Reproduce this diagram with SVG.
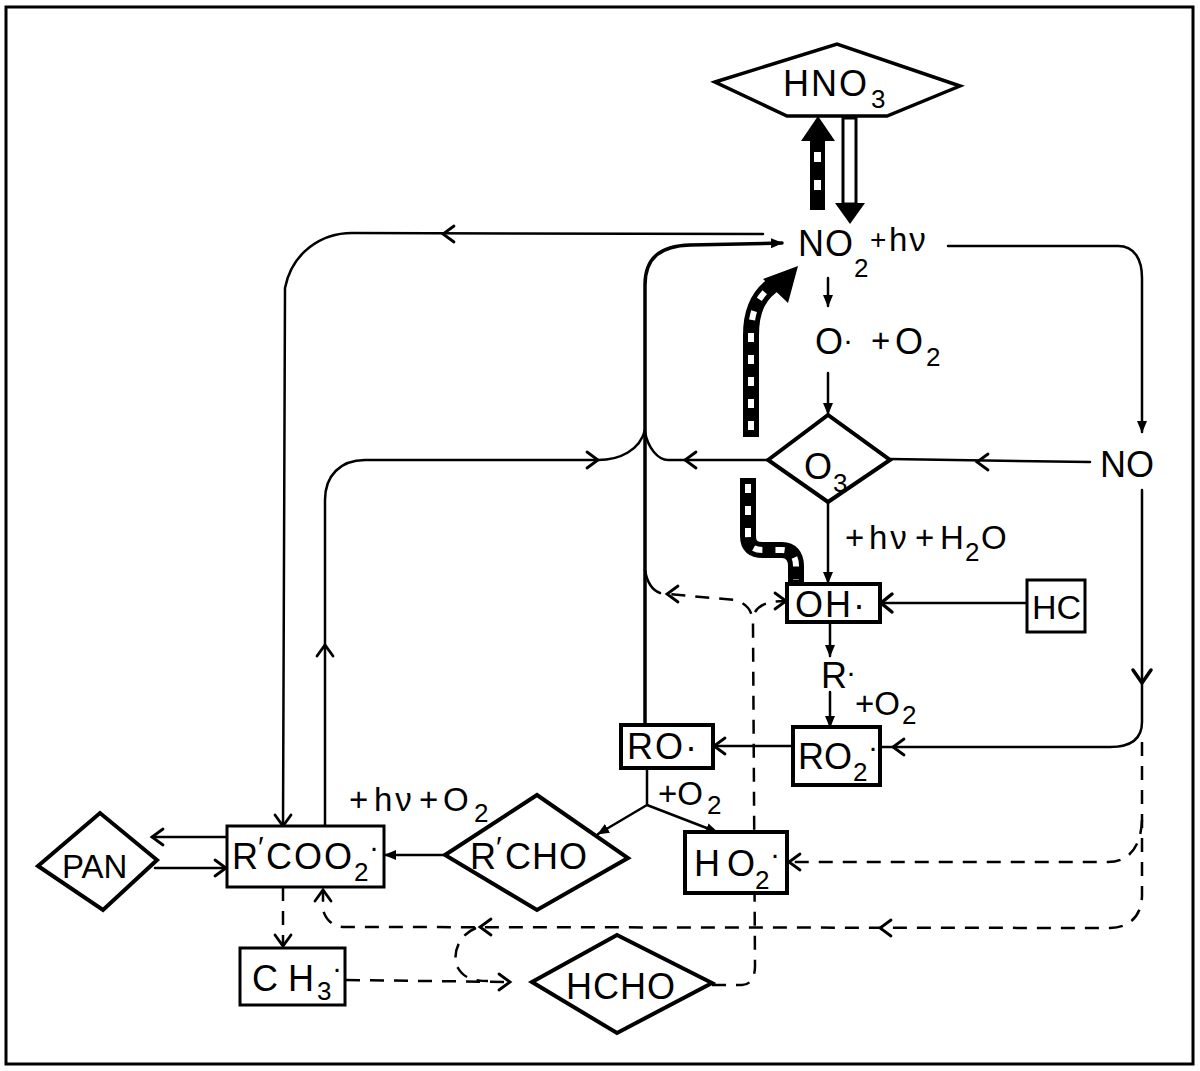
<svg xmlns="http://www.w3.org/2000/svg" width="1200" height="1071" viewBox="0 0 1200 1071">
<style>
.t{font-family:"Liberation Sans",Arial,sans-serif;font-size:36px;fill:#000}
.s{font-size:26px}
.sm{font-size:33px}
.dot{font-size:30px}
.ln{fill:none;stroke:#000;stroke-width:2.5;stroke-linecap:round;stroke-linejoin:round}
.bold{stroke-width:3.5}
.dash{fill:none;stroke:#000;stroke-width:2.5;stroke-dasharray:14 10}
.chev{fill:none;stroke:#000;stroke-width:2.8;stroke-linecap:round;stroke-linejoin:miter}
.box{fill:#fff;stroke:#000;stroke-width:4}
.thick{fill:none;stroke:#000;stroke-width:16}
.wd{fill:none;stroke:#fff;stroke-width:6;stroke-dasharray:9 13}
</style>
<defs>
<marker id="fa" viewBox="0 0 12 10" refX="11" refY="5" markerWidth="12" markerHeight="10" markerUnits="userSpaceOnUse" orient="auto">
<path d="M0,0 L12,5 L0,10 z" fill="#000"/>
</marker>
</defs>
<rect x="6" y="7" width="1187" height="1057" fill="#fff" stroke="#000" stroke-width="3"/>
<g id="connectors">
<path class="ln" d="M763,234 L352,233 C322,233 292,252 285,288 L283,826"/>
<path class="ln" d="M325,826 L325,500 C325,476 340,460 365,460 L598,460 C620,460 640,450 645,430"/>
<path class="ln" d="M768,460 L668,460 C658,460 648,448 645,432"/>
<path class="ln bold" d="M645,725 L645,285 C645,258 660,246 690,245 L782,243" marker-end="url(#fa)"/>
<path class="ln" d="M645,570 C647,582 652,590 660,593"/>
<path class="ln" d="M948,246 L1118,246 C1135,246 1142,260 1142,278 L1142,432" marker-end="url(#fa)"/>
<path class="ln" d="M1090,462 L890,459"/>
<path class="ln" d="M1142,490 L1142,722 C1142,740 1130,747 1110,747 L881,747"/>
<path class="ln" d="M828,278 L828,306" marker-end="url(#fa)"/>
<path class="ln" d="M828,373 L828,414" marker-end="url(#fa)"/>
<path class="ln" d="M828,502 L828,583" marker-end="url(#fa)"/>
<path class="ln" d="M1027,603 L882,603"/>
<path class="ln" d="M830,622 L830,656" marker-end="url(#fa)"/>
<path class="ln" d="M830,692 L830,727" marker-end="url(#fa)"/>
<path class="ln" d="M793,746 L715,746"/>
<path class="ln" d="M647,768 L647,805 L598,834" marker-end="url(#fa)"/>
<path class="ln" d="M647,805 L717,832" marker-end="url(#fa)"/>
<path class="ln" d="M445,855 L385,855" marker-end="url(#fa)"/>
<path class="ln" d="M227,837 L152,837"/>
<path class="ln" d="M155,868 L226,868"/>
<path class="dash" d="M283,887 L283,946"/>
<path class="dash" d="M346,980 L510,982"/>
<path class="dash" d="M476,928 C456,936 452,958 458,968 C463,977 472,981 488,981"/>
<path class="dash" d="M1142,742 L1142,895 C1142,915 1130,928 1110,928 L345,927 C333,927 326,920 323,910 L323,890"/>
<path class="dash" d="M1142,820 C1141,848 1128,862 1108,862 L789,862"/>
<path class="dash" d="M712,985 L742,985 C750,985 755,978 755,966 L753,625 C753,612 748,604 735,600 L668,594"/>
<path class="dash" d="M755,612 C760,604 770,601 786,601"/>
<polyline class="chev" points="454,226 443,234 454,242"/>
<polyline class="chev" points="275,815 283,826 291,815"/>
<polyline class="chev" points="317,656 325,645 333,656"/>
<polyline class="chev" points="587,452 598,460 587,468"/>
<polyline class="chev" points="696,452 685,460 696,468"/>
<polyline class="chev" points="988,454 977,462 988,470"/>
<polyline class="chev" points="1133,670 1142,683 1151,670" style="stroke-width:3.5"/>
<polyline class="chev" points="904,739 893,747 904,755"/>
<polyline class="chev" points="892,594 881,603 892,612" style="stroke-width:3.5"/>
<polyline class="chev" points="725,738 714,746 725,754"/>
<polyline class="chev" points="163,829 152,837 163,845"/>
<polyline class="chev" points="215,860 226,868 215,876"/>
<polyline class="chev" points="275,935 283,946 291,935"/>
<polyline class="chev" points="499,974 510,982 499,990"/>
<polyline class="chev" points="491,919 480,927 491,935"/>
<polyline class="chev" points="891,920 880,928 891,936"/>
<polyline class="chev" points="315,901 323,890 331,901"/>
<polyline class="chev" points="800,854 789,862 800,870"/>
<polyline class="chev" points="678,586 667,594 678,602"/>
<polyline class="chev" points="775,593 786,601 775,609"/>
<rect x="810" y="138" width="15" height="72" fill="#000"/>
<rect x="814" y="152" width="7" height="10" fill="#fff"/>
<rect x="814" y="180" width="7" height="10" fill="#fff"/>
<polygon points="818,116 801,141 835,141" fill="#000"/>
<rect x="843" y="118" width="13" height="86" fill="#fff" stroke="#000" stroke-width="3"/>
<polygon points="835,203 865,203 850,224" fill="#000"/>
<path class="thick" d="M751,437 L751,335 C751,308 760,293 776,283"/>
<path class="wd" d="M751,430 L751,335 C751,308 760,293 776,283"/>
<polygon points="798,266 763,279 788,303" fill="#000"/>
<path class="thick" d="M748,478 L748,536 C748,546 753,550 763,550 L782,550 C791,550 796,556 796,566 L796,583"/>
<path class="wd" d="M748,484 L748,536 C748,546 753,550 763,550 L782,550 C791,550 796,556 796,566 L796,580"/>
</g>
<g id="HNO3"><polygon class="box" points="715,82 837,44 960,86 887,116 787,116" style="stroke-width:3.5"/>
<text class="t" x="783" y="96" style="letter-spacing:2px">HNO<tspan class="s" x="871" y="108" style="letter-spacing:0">3</tspan></text></g>
<g id="NO2"><text class="t" x="798" y="256" style="letter-spacing:1px">NO<tspan class="s" x="854" y="277" style="letter-spacing:0">2</tspan></text>
<text class="t" x="870" y="249" style="font-size:28px">+</text><text class="t sm" x="889" y="251" style="letter-spacing:2px">hν</text></g>
<g id="O-O2"><text class="t" x="815" y="354">O</text><text class="t dot" x="843" y="350">·</text>
<text class="t sm" x="871" y="352">+</text><text class="t" x="895" y="354">O</text><text class="t s" x="926" y="366">2</text></g>
<g id="O3"><polygon class="box" points="768,460 828,415 890,460 828,502"/>
<text class="t" x="804" y="479">O<tspan class="s" x="833" y="492">3</tspan></text></g>
<g id="NO"><text class="t" x="1100" y="477">NO</text></g>
<g id="hv-H2O"><text class="t sm" x="845" y="549">+</text><text class="t sm" x="869" y="549" style="letter-spacing:3px">hν</text><text class="t sm" x="915" y="549">+</text><text class="t sm" x="940" y="549">H</text><text class="t s" x="965" y="561">2</text><text class="t sm" x="981" y="549">O</text></g>
<g id="OH"><rect class="box" x="787" y="584" width="93" height="38"/>
<text class="t" x="795" y="617" style="letter-spacing:2px">OH·</text></g>
<g id="HC"><rect class="box" x="1027" y="580" width="58" height="52" style="stroke-width:3"/>
<text class="t" x="1032" y="619" style="font-size:34px">HC</text></g>
<g id="R"><text class="t" x="821" y="688">R</text><text class="t dot" x="846" y="682">·</text></g>
<g id="R-O2"><text class="t sm" x="855" y="715">+O</text><text class="t s" x="902" y="724">2</text></g>
<g id="RO2"><rect class="box" x="793" y="727" width="87" height="58"/>
<text class="t" x="798" y="769">RO<tspan class="s" x="853" y="781">2</tspan><tspan class="dot" x="868" y="757">·</tspan></text></g>
<g id="RO"><rect class="box" x="621" y="725" width="92" height="43"/>
<text class="t" x="627" y="759" style="letter-spacing:2px">RO·</text></g>
<g id="RO-O2"><text class="t sm" x="658" y="805">+O</text><text class="t s" x="707" y="814">2</text></g>
<g id="HO2"><rect class="box" x="685" y="832" width="102" height="61"/>
<text class="t" x="694" y="876">H<tspan x="727">O</tspan><tspan class="s" x="755" y="889">2</tspan><tspan class="dot" x="770" y="864">·</tspan></text></g>
<g id="RCHO"><polygon class="box" points="445,855 537,795 628,858 537,910"/>
<text class="t" x="470" y="869">R<tspan class="dot" x="496" y="857">′</tspan><tspan x="505" y="869" style="letter-spacing:1px">CHO</tspan></text></g>
<g id="hv-O2"><text class="t sm" x="349" y="811">+</text><text class="t sm" x="374" y="811" style="letter-spacing:3px">hν</text><text class="t sm" x="419" y="811">+</text><text class="t sm" x="443" y="811">O</text><text class="t s" x="474" y="822">2</text></g>
<g id="RCOO2"><rect class="box" x="227" y="826" width="157" height="61" style="stroke-width:3"/>
<text class="t" x="232" y="869">R<tspan class="dot" x="258" y="857">′</tspan><tspan x="266" y="869" style="letter-spacing:2px">COO</tspan><tspan class="s" x="354" y="881">2</tspan><tspan class="dot" x="369" y="857">·</tspan></text></g>
<g id="PAN"><polygon class="box" points="38,866 100,813 157,860 103,910"/>
<text class="t" x="62" y="878" style="font-size:33px">PAN</text></g>
<g id="CH3"><rect class="box" x="240" y="948" width="105" height="57" style="stroke-width:3"/>
<text class="t" x="252" y="991">C<tspan x="288">H</tspan><tspan class="s" x="317" y="1000">3</tspan><tspan class="dot" x="332" y="978">·</tspan></text></g>
<g id="HCHO"><polygon class="box" points="532,982 617,935 712,983 617,1033"/>
<text class="t" x="566" y="999" style="letter-spacing:1px">HCHO</text></g>
</svg>
